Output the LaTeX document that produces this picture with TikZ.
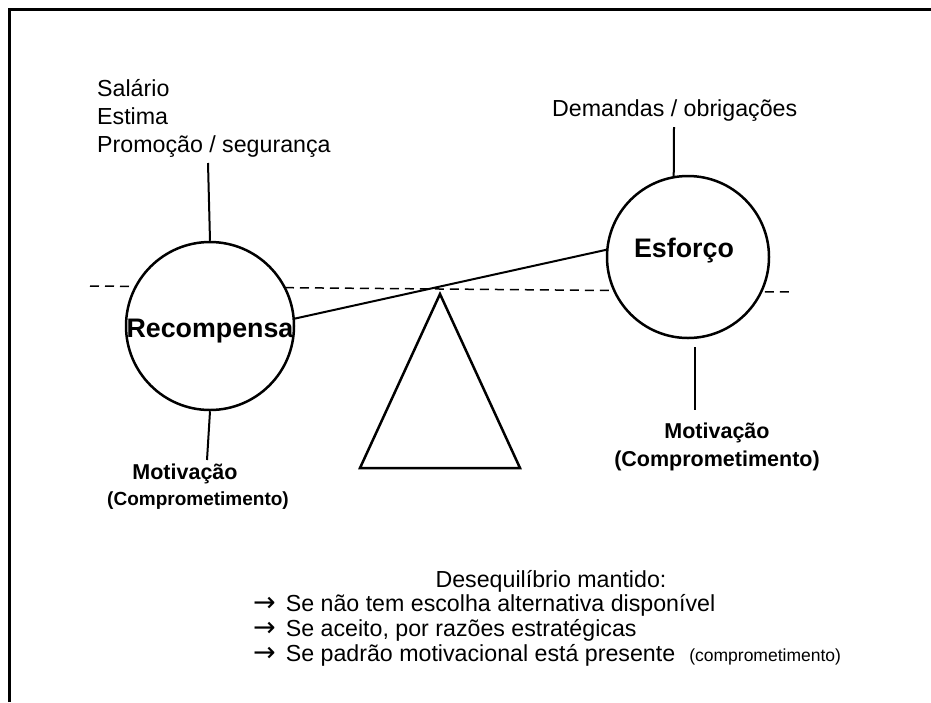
\documentclass[tikz,border=0pt]{standalone}
\usepackage{fontspec}
\setmainfont{Liberation Sans}
\newfontfamily\arrowfont{DejaVu Sans}
\newcommand{\seta}{{\arrowfont\fontsize{27}{25}\selectfont →}\hspace{10pt}}
\begin{document}
\begin{tikzpicture}[x=1pt,y=-1pt,
    ball/.style={circle,draw,line width=2.5pt,fill=white,inner sep=0pt},
    stick/.style={line width=2pt},
    txt/.style={inner sep=0pt,font=\fontsize{23.2}{28}\selectfont},
    big/.style={inner sep=0pt,font=\fontsize{26.8}{30}\selectfont\bfseries},
    mot/.style={inner sep=0pt,font=\fontsize{21.5}{26}\selectfont\bfseries}]
\useasboundingbox (0,0) rectangle (931,702);
% frame
\draw[line width=3pt] (9,702) -- (9,9) -- (931,9);
% level line
\coordinate (hl) at (90,286);
\coordinate (hr) at (790,292);
\draw[dash pattern=on 9pt off 6pt,line width=1.5pt] (hl) -- (hr);
% the two pans
\node[ball,minimum size=168pt] (rew) at (210,326) {};
\node[ball,minimum size=162pt] (eff) at (688,257) {};
\node[big,anchor=base] (rewt) at (210,337) {Recompensa};
\node[big,anchor=base] (efft) at (684,257) {Esforço};
% beam and pivot
\draw[stick] (rew.5) -- (eff.175);
\coordinate (apex) at (440,294);
\coordinate (tl) at (360,468);
\coordinate (tr) at (520,468);
\draw[line width=2.5pt] (apex) -- (tl) -- (tr) -- cycle;
% sticks
\coordinate (rewup) at (208,163);
\coordinate (rewdn) at (207,460);
\coordinate (effup) at (674,127);
\coordinate (effdn) at (695,410);
\draw[stick] (rewup) -- (rew.north);
\draw[stick] (rew.south) -- (rewdn);
\draw[stick] (effup) -- (eff.100);
\draw[stick] ([shift={(7pt,-8pt)}]eff.south) -- (effdn);
% texts
\node[txt,anchor=base west,align=left] (rewin) at (97,152) {Salário\\Estima\\Promoção / segurança};
\node[txt,anchor=base west] (effin) at (552,116) {Demandas / obrigações};
\node[mot,anchor=base] (motl) at (185,479) {Motivação};
\node[mot,anchor=base,font=\fontsize{19}{24}\selectfont\bfseries] (coml) at (198,505) {(Comprometimento)};
\node[mot,anchor=base] (motr) at (717,438) {Motivação};
\node[mot,anchor=base] (comr) at (717,466) {(Comprometimento)};
\node[txt,anchor=base] (deseq) at (551,587) {Desequilíbrio mantido:};
\node[txt,anchor=base west,align=left,font=\fontsize{23.2}{25}\selectfont] (conds) at (253,661)
  {\seta Se não tem escolha alternativa disponível\\
   \seta Se aceito, por razões estratégicas\\
   \seta Se padrão motivacional está presente\hspace{14pt}{\fontsize{17.5}{18}\selectfont(comprometimento)}};
\end{tikzpicture}
\end{document}
